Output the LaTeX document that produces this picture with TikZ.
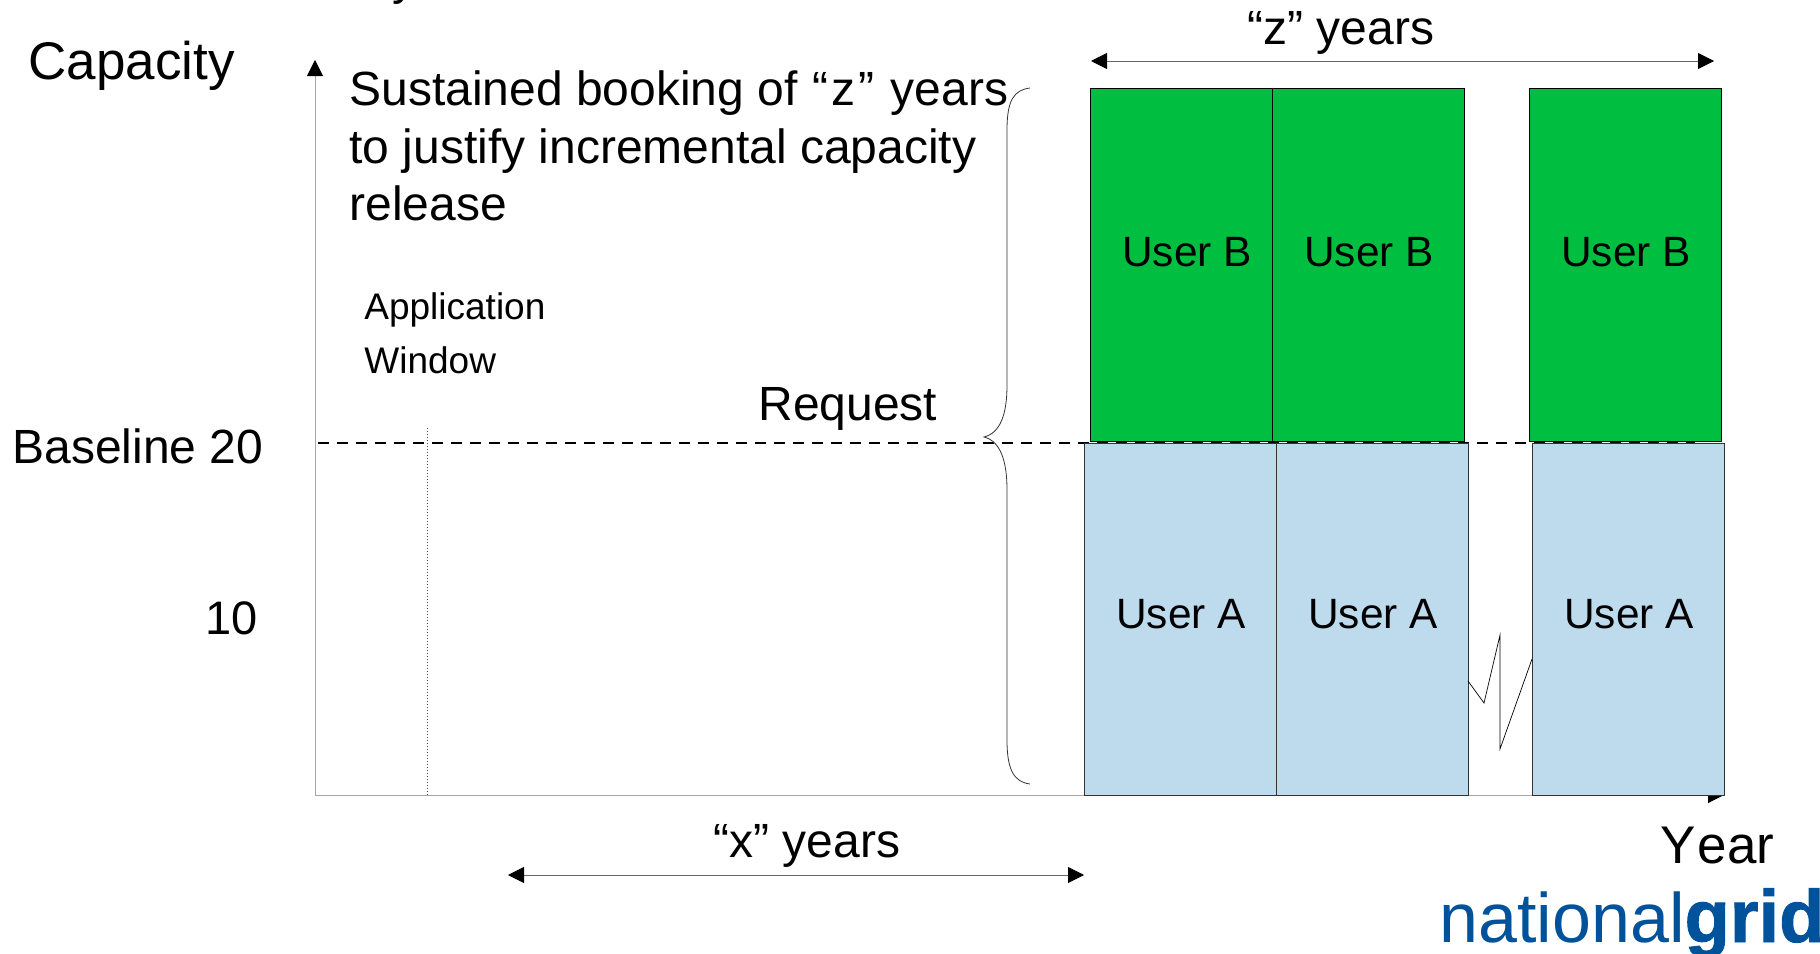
\documentclass[tikz,border=0pt]{standalone}
\usepackage{fontspec}
\usetikzlibrary{arrows.meta}
\setmainfont{Liberation Sans}
\newfontfamily\gridfont[FakeBold=1.2]{Liberation Sans Bold}
\definecolor{usergreen}{HTML}{00BF40}
\definecolor{userblue}{HTML}{BDDBED}
\definecolor{axisgrey}{HTML}{A6A6A6}
\definecolor{gridblue}{HTML}{00529B}
\newcommand{\fsize}[1]{\fontsize{#1}{#1}\selectfont}
\begin{document}
\begin{tikzpicture}[x=0.5pt,y=-0.5pt,
        arrow/.style = {draw=axisgrey,line width=0.5pt,-{Triangle[black,length=8pt,width=8pt]}},
        span/.style = {draw=black!60,line width=0.4pt,{Triangle[black,length=8pt,width=8pt]}-{Triangle[black,length=8pt,width=8pt]}},
        greenbox/.style = {draw=black,line width=0.5pt,fill=usergreen,inner sep=0pt,anchor=north west},
        bluebox/.style = {draw=black!80,line width=0.5pt,fill=userblue,inner sep=0pt,anchor=north west},
        txt/.style = {inner sep=0pt,anchor=base west,align=left},
        user/.style = {inner sep=0pt,font=\fsize{21.2}}]
    \useasboundingbox (0,0) rectangle (1820,953);

    % axes
    \coordinate (origin) at (315,795);
    \coordinate (captop) at (315,60);
    \coordinate (yearend) at (1724,795);
    \draw[arrow] (origin) -- (captop);
    \draw[arrow] (origin) -- (yearend);

    % baseline and window
    \coordinate (baseL) at (318,443);
    \coordinate (baseR) at (1695,443);
    \draw[line width=1.3pt,dash pattern=on 5.5pt off 4pt] (baseL) -- (baseR);
    \coordinate (winT) at (427,428);
    \coordinate (winB) at (427,795);
    \draw[black!70,line width=0.5pt,densely dotted] (winT) -- (winB);

    % booked capacity
    \node[bluebox,minimum width=96pt,minimum height=176pt] (a1) at (1084,443) {};
    \node[bluebox,minimum width=96pt,minimum height=176pt] (a2) at (1276,443) {};
    \node[bluebox,minimum width=96pt,minimum height=176pt] (a3) at (1532,443) {};
    \node[greenbox,minimum width=91pt,minimum height=176.5pt] (b1) at (1090,88) {};
    \node[greenbox,minimum width=96pt,minimum height=176.5pt] (b2) at (1272,88) {};
    \node[greenbox,minimum width=96pt,minimum height=176.5pt] (b3) at (1529,88) {};
    \node[user] (ua1) at (1181,614) {User A};
    \node[user] (ua2) at (1373,614) {User A};
    \node[user] (ua3) at (1629,614) {User A};
    \node[user] (ub1) at (1187,252) {User B};
    \node[user] (ub2) at (1369,252) {User B};
    \node[user] (ub3) at (1626,252) {User B};

    % break between the years
    \coordinate (zz1) at (1468,681);
    \coordinate (zz2) at (1484,703);
    \coordinate (zz3) at (1500,635);
    \coordinate (zz4) at (1500,749);
    \coordinate (zz5) at (1532,659);
    \draw[line width=0.35pt] (zz1) -- (zz2) -- (zz3) -- (zz4) -- (zz5);

    % braces
    \coordinate (brT) at (1030,88);
    \coordinate (brM) at (984,437);
    \coordinate (brB) at (1030,784);
    \draw[black!80,line width=0.4pt] (brT) .. controls (1014,90) and (1007,100) .. (1007,130)
        -- (1007,385) .. controls (1007,415) and (1000,433) .. (brM)
        .. controls (1000,441) and (1007,460) .. (1007,490)
        -- (1007,740) .. controls (1007,770) and (1014,782) .. (brB);

    % spans
    \coordinate (zL) at (1091,61);
    \coordinate (zR) at (1714,61);
    \draw[span] (zL) -- (zR);
    \coordinate (xL) at (508,875);
    \coordinate (xR) at (1084,875);
    \draw[span] (xL) -- (xR);

    % labels
    \node[txt,font=\fsize{24}] (topy) at (392,-5) {y};
    \node[txt,font=\fsize{26.5}] (capacity) at (28,79) {Capacity};
    \node[txt,font=\fsize{24}] (line1) at (349,105) {Sustained booking of\kern0.8pt{} “\kern1.5pt{}z\kern1.5pt{}”\kern1.5pt{} years};
    \node[txt,font=\fsize{24}] (line2) at (349,163) {to justify incremental capacity};
    \node[txt,font=\fsize{24}] (line3) at (349,220) {release};
    \node[txt,font=\fsize{18.5}] (appl) at (364,319) {Application};
    \node[txt,font=\fsize{18.5}] (wind) at (364,373) {Window};
    \node[txt,font=\fsize{24}] (request) at (758,420) {Request};
    \node[txt,font=\fsize{24}] (base20) at (12,463) {Baseline 20};
    \node[txt,font=\fsize{23.5}] (ten) at (205,634) {10};
    \node[txt,font=\fsize{24}] (ztext) at (1247,44) {“z” years};
    \node[txt,font=\fsize{24}] (xtext) at (713,857) {“x” years};
    \node[txt,font=\fsize{26.5}] (yeartext) at (1660,863) {Y\kern1pt{}ear};
    \node[txt,font=\fsize{35},text=gridblue] (logo) at (1439,942) {national{\fsize{37}\gridfont grid}};
\end{tikzpicture}
\end{document}
